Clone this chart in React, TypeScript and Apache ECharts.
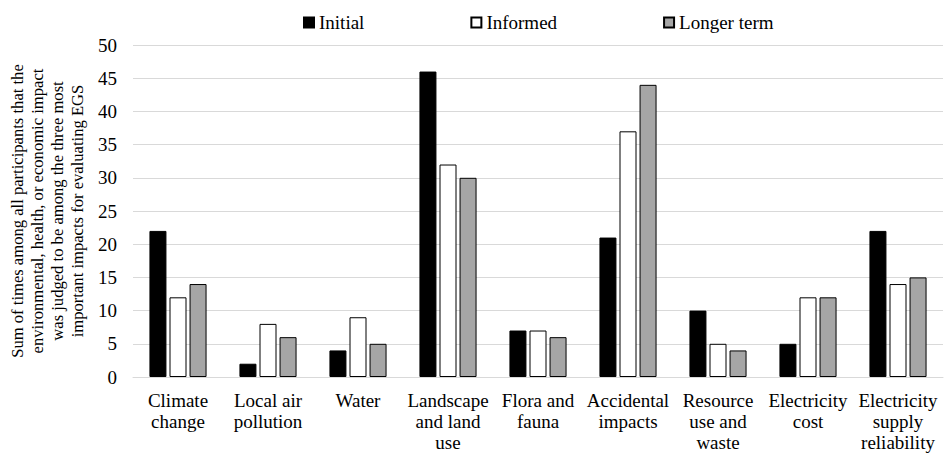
import React, { useEffect, useRef } from "react";
import * as echarts from "echarts";

const categories = [
  "Climate\nchange",
  "Local air\npollution",
  "Water",
  "Landscape\nand land\nuse",
  "Flora and\nfauna",
  "Accidental\nimpacts",
  "Resource\nuse and\nwaste",
  "Electricity\ncost",
  "Electricity\nsupply\nreliability",
];
const initial = [22, 2, 4, 46, 7, 21, 10, 5, 22];
const informed = [12, 8, 9, 32, 7, 37, 5, 12, 14];
const longerTerm = [14, 6, 5, 30, 6, 44, 4, 12, 15];
const yAxisName =
  "Sum of times among all participants that the\nenvironmental, health, or economic impact\nwas judged to be among the three most\nimportant impacts for evaluating EGS";

const FONT = "'Liberation Serif', 'Times New Roman', serif";

export default function App() {
  const ref = useRef<HTMLDivElement>(null);
  useEffect(() => {
    if (!ref.current) return;
    const chart = echarts.init(ref.current, null, { renderer: "svg" });
    const mk = (name: string, data: number[], color: string) => ({
      name,
      type: "bar",
      data,
      barWidth: 17,
      barGap: "18%",
      itemStyle: { color, borderColor: "#000", borderWidth: 1 },
    });
    chart.setOption({
      animation: false,
      textStyle: { fontFamily: FONT, color: "#000" },
      legend: {
        top: 8,
        left: 298,
        itemWidth: 10,
        itemHeight: 10,
        itemGap: 106,
        icon: "rect",
        textStyle: { fontFamily: FONT, fontSize: 19, color: "#000" },
        data: ["Initial", "Informed", "Longer term"],
      },
      grid: { left: 133, right: 2, top: 45, bottom: 78, outerBoundsMode: "none" },
      xAxis: {
        type: "category",
        data: categories,
        axisLine: { lineStyle: { color: "#d9d9d9", width: 1 } },
        axisTick: { show: false },
        axisLabel: {
          interval: 0,
          margin: 13,
          fontFamily: FONT,
          fontSize: 19,
          lineHeight: 21,
          color: "#000",
        },
      },
      yAxis: {
        type: "value",
        min: 0,
        max: 50,
        interval: 5,
        name: yAxisName,
        nameLocation: "middle",
        nameRotate: 90,
        nameGap: 45,
        nameTextStyle: {
          fontFamily: FONT,
          fontSize: 16.6,
          lineHeight: 20,
          color: "#000",
          align: "center",
        },
        axisLine: { show: false },
        axisTick: { show: false },
        splitLine: { lineStyle: { color: "#d9d9d9", width: 1 } },
        axisLabel: {
          margin: 16,
          fontFamily: FONT,
          fontSize: 19,
          color: "#000",
        },
      },
      series: [
        mk("Initial", initial, "#000000"),
        mk("Informed", informed, "#ffffff"),
        mk("Longer term", longerTerm, "#a6a6a6"),
      ],
    });
    return () => chart.dispose();
  }, []);
  return (
    <div
      ref={ref}
      style={{ position: "fixed", left: 0, top: 0, width: 945, height: 455, background: "#fff" }}
    />
  );
}
